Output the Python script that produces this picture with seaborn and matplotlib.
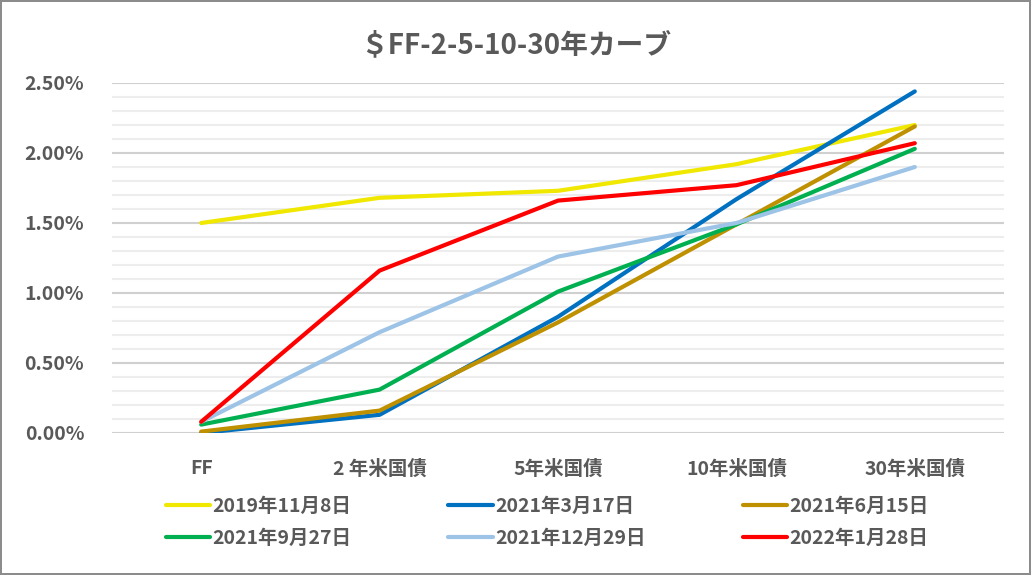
import pandas as pd
import matplotlib
matplotlib.use('Agg')
import matplotlib.pyplot as plt
from matplotlib.ticker import MultipleLocator, FuncFormatter
import seaborn as sns

# yield curve data (values in %)
categories = ['FF', '2 年米国債', '5年米国債', '10年米国債', '30年米国債']
series_names = ['2019年11月8日', '2021年3月17日', '2021年6月15日',
                '2021年9月27日', '2021年12月29日', '2022年1月28日']
y_2019_11_08 = [1.50, 1.68, 1.73, 1.92, 2.20]
y_2021_03_17 = [0.00, 0.13, 0.83, 1.67, 2.44]
y_2021_06_15 = [0.01, 0.16, 0.79, 1.49, 2.19]
y_2021_09_27 = [0.06, 0.31, 1.01, 1.49, 2.03]
y_2021_12_29 = [0.08, 0.72, 1.26, 1.50, 1.90]
y_2022_01_28 = [0.08, 1.16, 1.66, 1.77, 2.07]
colors = ['#F0E800', '#0070C0', '#BF9000', '#00B050', '#9DC3E6', '#FF0000']

all_values = [y_2019_11_08, y_2021_03_17, y_2021_06_15,
              y_2021_09_27, y_2021_12_29, y_2022_01_28]
rows = []
for name, vals in zip(series_names, all_values):
    for i, v in enumerate(vals):
        rows.append({'pos': i, 'value': v, 'series': name})
df = pd.DataFrame(rows)

sns.set_style('white')
plt.rcParams['font.family'] = ['Noto Sans CJK JP', 'DejaVu Sans']
plt.rcParams['font.weight'] = 'bold'

grey = '#595959'
fig = plt.figure(figsize=(10.31, 5.75), dpi=100)
fig.patch.set_edgecolor('#8C8C8C')
fig.patch.set_linewidth(1.5)
ax = fig.add_axes([112 / 1031, 1 - 433 / 575, 892 / 1031, 350 / 575])

sns.lineplot(data=df, x='pos', y='value', hue='series', hue_order=series_names,
             palette=colors, linewidth=3, sort=False, ax=ax, legend=True)

ax.set_xlim(-0.5, 4.5)
ax.set_ylim(0, 2.5)
ax.yaxis.set_major_locator(MultipleLocator(0.5))
ax.yaxis.set_minor_locator(MultipleLocator(0.1))
ax.yaxis.set_major_formatter(FuncFormatter(lambda v, p: f'{v:.2f}%'))
ax.set_xticks(range(len(categories)))
ax.set_xticklabels(categories)
ax.grid(which='major', axis='y', color='#D0D0D0', linewidth=1.5)
ax.grid(which='minor', axis='y', color='#EDEDED', linewidth=1.5)
ax.set_axisbelow(True)
for s in ax.spines.values():
    s.set_visible(False)
ax.tick_params(axis='both', which='both', length=0, labelsize=14, labelcolor=grey)
ax.tick_params(axis='y', pad=20)
ax.tick_params(axis='x', pad=19)
ax.set_xlabel('')
ax.set_ylabel('')

fig.text(0.5, 1 - 45 / 575, '＄FF-2-5-10-30年カーブ', ha='center', va='center',
         fontsize=20, color=grey, fontweight='bold')

# legend filled row by row, like the original
handles, labels = ax.get_legend_handles_labels()
ax.get_legend().remove()
order = [0, 3, 1, 4, 2, 5]
leg = fig.legend([handles[i] for i in order], [labels[i] for i in order],
                 ncol=3, loc='upper left',
                 bbox_to_anchor=(148 / 1031, 1 - 479 / 575), frameon=False,
                 fontsize=14, handlelength=2.3, handletextpad=0.1,
                 columnspacing=5.0, labelspacing=0.7)
for t in leg.get_texts():
    t.set_color(grey)

fig.savefig('out.png', dpi=100)
